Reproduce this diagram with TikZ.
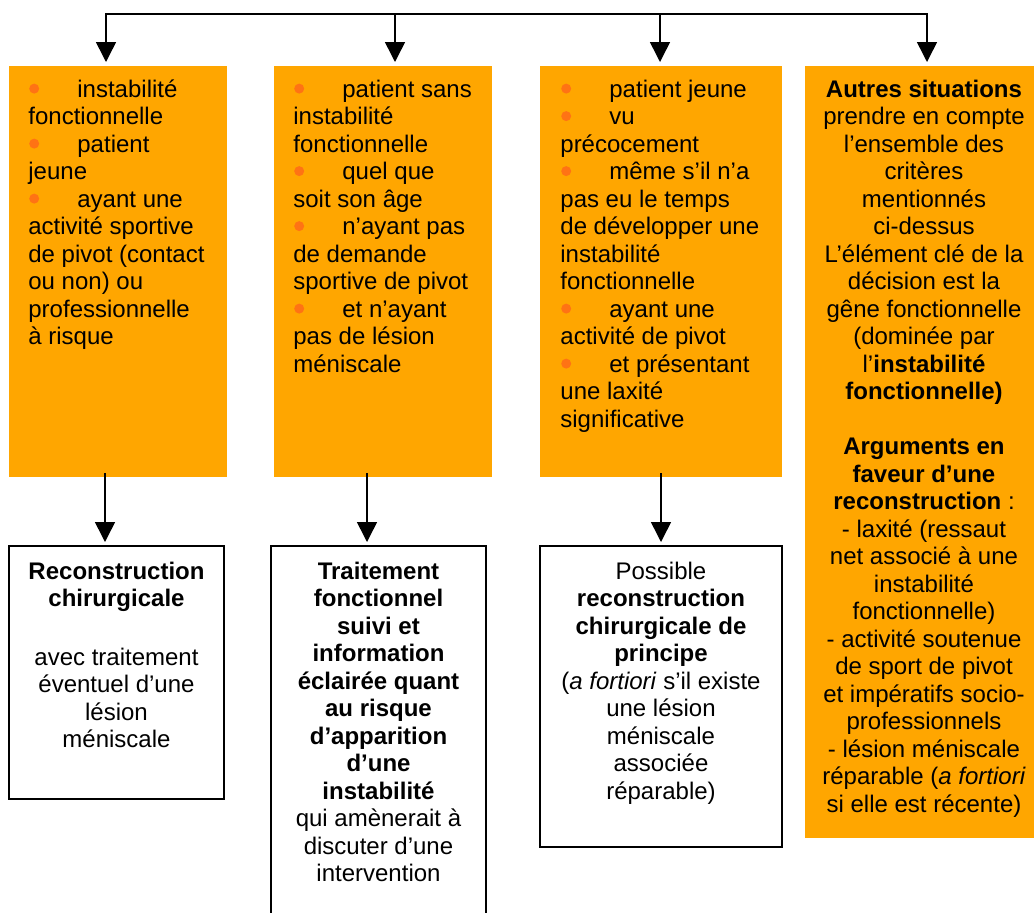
\documentclass[tikz,border=0pt]{standalone}
\usepackage{fontspec}
\setmainfont{Liberation Sans}
\usepackage{tikz}
\usetikzlibrary{arrows.meta}
\definecolor{critorange}{RGB}{255,166,0}
\definecolor{bulorange}{RGB}{255,115,20}
\newcommand{\bul}{\makebox[24.5pt][l]{\hspace*{0.4pt}\tikz[x=1cm,y=1cm,baseline=-4.4pt]\fill[bulorange] (0,0) circle[radius=2.5pt];}}

\begin{document}
\begin{tikzpicture}
  [x=0.5pt,y=-0.5pt,
   crit/.style={rectangle,fill=critorange,anchor=north west,inner sep=0pt,outer sep=0pt},
   result/.style={rectangle,draw,line width=0.9pt,fill=white,anchor=north west,inner sep=0pt,outer sep=0pt},
   txt/.style={inner sep=0pt,font=\fontsize{12pt}{13.75pt}\selectfont},
   flow/.style={line width=0.75pt,-{Triangle[width=10pt,length=10pt]},shorten >=2pt}]

  \useasboundingbox (0,0) rectangle (1034,912);

  % criteria boxes
  \node[crit,minimum width=109pt,minimum height=205.5pt] (o1) at (9,66) {};
  \node[crit,minimum width=109pt,minimum height=205.5pt] (o2) at (274,66) {};
  \node[crit,minimum width=121pt,minimum height=205.5pt] (o3) at (540,66) {};
  \node[crit,minimum width=120pt,minimum height=386pt] (o4) at (805,66) {};

  \node[txt,anchor=north west,align=left] (t1) at (28,77.75) {\strut\bul instabilité\\
    fonctionnelle\\
    \bul patient\\
    jeune\\
    \bul ayant une\\
    activité sportive\\
    de pivot (contact\\
    ou non) ou\\
    professionnelle\\
    à risque};
  \node[txt,anchor=north west,align=left] (t2) at (293,77.75) {\strut\bul patient sans\\
    instabilité\\
    fonctionnelle\\
    \bul quel que\\
    soit son âge\\
    \bul n’ayant pas\\
    de demande\\
    sportive de pivot\\
    \bul et n’ayant\\
    pas de lésion\\
    méniscale};
  \node[txt,anchor=north west,align=left] (t3) at (560,77.75) {\strut\bul patient jeune\\
    \bul vu\\
    précocement\\
    \bul même s’il n’a\\
    pas eu le temps\\
    de développer une\\
    instabilité\\
    fonctionnelle\\
    \bul ayant une\\
    activité de pivot\\
    \bul et présentant\\
    une laxité\\
    significative};
  \node[txt,anchor=north,align=center] (t4) at (924,77.75) {\strut\textbf{Autres situations}\\
    prendre en compte\\
    l’ensemble des\\
    critères\\
    mentionnés\\
    ci-dessus\\
    L’élément clé de la\\
    décision est la\\
    gêne fonctionnelle\\
    (dominée par\\
    l’\textbf{instabilité}\\
    \textbf{fonctionnelle)}\\[13.75pt]
    \textbf{Arguments en}\\
    \textbf{faveur d’une}\\
    \textbf{reconstruction} :\\
    - laxité (ressaut\\
    net associé à une\\
    instabilité\\
    fonctionnelle)\\
    - activité soutenue\\
    de sport de pivot\\
    et impératifs socio-\\
    professionnels\\
    - lésion méniscale\\
    réparable (\textit{a fortiori}\\
    si elle est récente)};

  % decisions
  \node[result,minimum width=107.5pt,minimum height=126.5pt] (r1) at (9,546) {};
  \node[result,minimum width=107.5pt,minimum height=186pt] (r2) at (271,546) {};
  \node[result,minimum width=121pt,minimum height=150.5pt] (r3) at (540,546) {};

  \node[txt,anchor=north,align=center] (u1) at (116.5,559.75) {\strut\textbf{Reconstruction}\\
    \textbf{chirurgicale}\\[15.5pt]
    avec traitement\\
    éventuel d’une\\
    lésion\\
    méniscale};
  \node[txt,anchor=north,align=center] (u2) at (378.5,559.75) {\strut\textbf{Traitement}\\
    \textbf{fonctionnel}\\
    \textbf{suivi et}\\
    \textbf{information}\\
    \textbf{éclairée quant}\\
    \textbf{au risque}\\
    \textbf{d’apparition}\\
    \textbf{d’une}\\
    \textbf{instabilité}\\
    qui amènerait à\\
    discuter d’une\\
    intervention};
  \node[txt,anchor=north,align=center] (u3) at (661,559.75) {\strut Possible\\
    \textbf{reconstruction}\\
    \textbf{chirurgicale de}\\
    \textbf{principe}\\
    (\textit{a fortiori} s’il existe\\
    une lésion\\
    méniscale\\
    associée\\
    réparable)};

  % connectors
  \coordinate (d1) at (106,14);
  \coordinate (d2) at (395,14);
  \coordinate (d3) at (660,14);
  \coordinate (d4) at (927,14);
  \draw[line width=0.75pt,line cap=rect] (d1) -- (d4);
  \foreach \d/\o in {d1/o1,d2/o2,d3/o3,d4/o4}
    \draw[flow] (\d) -- (\d |- \o.north);
  \foreach \x/\o/\r in {105/o1/r1,367/o2/r2,661/o3/r3}
    \draw[flow,shorten <=-2pt] (\x,0 |- \o.south) -- (\x,0 |- \r.north);
\end{tikzpicture}
\end{document}
